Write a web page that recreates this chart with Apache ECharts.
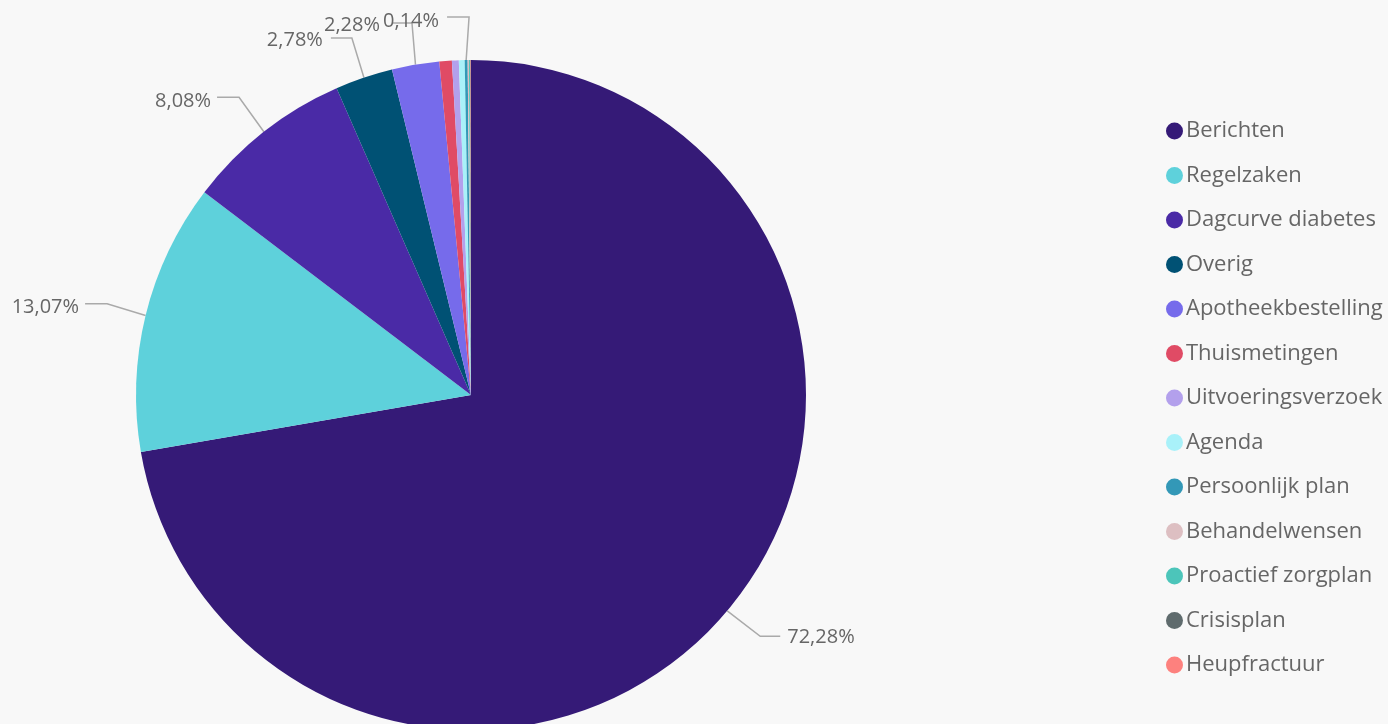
<!DOCTYPE html>
<html>
<head>
<meta charset="utf-8">
<script src="https://cdn.jsdelivr.net/npm/echarts@6/dist/echarts.min.js"></script>
<style>
html,body{margin:0;padding:0;background:#f8f8f8;}
#chart{width:1388px;height:724px;}
</style>
</head>
<body>
<div id="chart"></div>
<script>
const categories = ['Berichten','Regelzaken','Dagcurve diabetes','Overig','Apotheekbestelling','Thuismetingen','Uitvoeringsverzoek','Agenda','Persoonlijk plan','Behandelwensen','Proactief zorgplan','Crisisplan','Heupfractuur'];
const values = [72.28, 13.07, 8.08, 2.78, 2.28, 0.60, 0.33, 0.28, 0.14, 0.06, 0.05, 0.03, 0.02];
const showLabel = [true, true, true, true, true, false, false, false, true, false, false, false, false];
const colors = ['#351A77','#5ED1DB','#4A2AA6','#005174','#766BEB','#E04B65','#B3A0EC','#A9F1F9','#3398B7','#DDBFC2','#4CC5BA','#5F6B6D','#FD817E'];

const FONT = '"Segoe UI","Open Sans","Noto Sans",sans-serif';
// leader-line styling per label: first segment offset (tilt, rise), horizontal run (signed), text gap, text dy
const leader = {
  0: {tilt: 33, rise: 25.5, run: 20, gap: 7, dy: 1},
  1: {tilt: -38.5, rise: -11.6, run: -22, gap: 6, dy: 3},
  2: {tilt: -24.8, rise: -34.4, run: -22, gap: 6, dy: 3.5},
  3: {tilt: -12, rise: -39.5, run: -21, gap: 8, dy: 2},
  4: {tilt: -3.5, rise: -41.6, run: -19, gap: 13, dy: 2},
  8: {tilt: 2.9, rise: -43, run: -22, gap: 8, dy: 4}
};
const chart = echarts.init(document.getElementById('chart'));
chart.setOption({
  backgroundColor: '#f8f8f8',
  animation: false,
  color: colors,
  legend: {
    orient: 'vertical',
    left: 1166,
    top: 119,
    padding: 0,
    icon: 'circle',
    itemWidth: 17,
    itemHeight: 17,
    itemGap: 20.5,
    textStyle: {fontFamily: FONT, fontSize: 22, color: '#666', lineHeight: 24, padding: [0,0,0,-2]},
    data: categories
  },
  series: [{
    type: 'pie',
    center: [471, 395],
    radius: 335,
    startAngle: 90,
    clockwise: true,
    avoidLabelOverlap: true,
    label: {
      formatter: p => p.value.toFixed(2).replace('.', ',') + '%',
      fontFamily: FONT,
      fontSize: 20,
      color: '#666'
    },
    labelLine: {length: 46, length2: 20, lineStyle: {color: '#aaa', width: 1.5}},
    labelLayout: function (params) {
      const t = leader[params.dataIndex];
      if (!t || !params.labelLinePoints) return;
      const p0 = params.labelLinePoints[0];
      const p1 = [p0[0] + t.tilt, p0[1] + t.rise];
      const p2 = [p1[0] + t.run, p1[1]];
      const right = t.run < 0;
      return {
        x: p2[0] + (right ? -t.gap : t.gap),
        y: p1[1] + t.dy,
        align: right ? 'right' : 'left',
        verticalAlign: 'middle',
        labelLinePoints: [p0, p1, p2]
      };
    },
    itemStyle: {borderWidth: 0},
    data: categories.map((c, i) => ({
      name: c,
      value: values[i],
      label: {show: showLabel[i]},
      labelLine: {show: showLabel[i]}
    }))
  }]
});
</script>
</body>
</html>
